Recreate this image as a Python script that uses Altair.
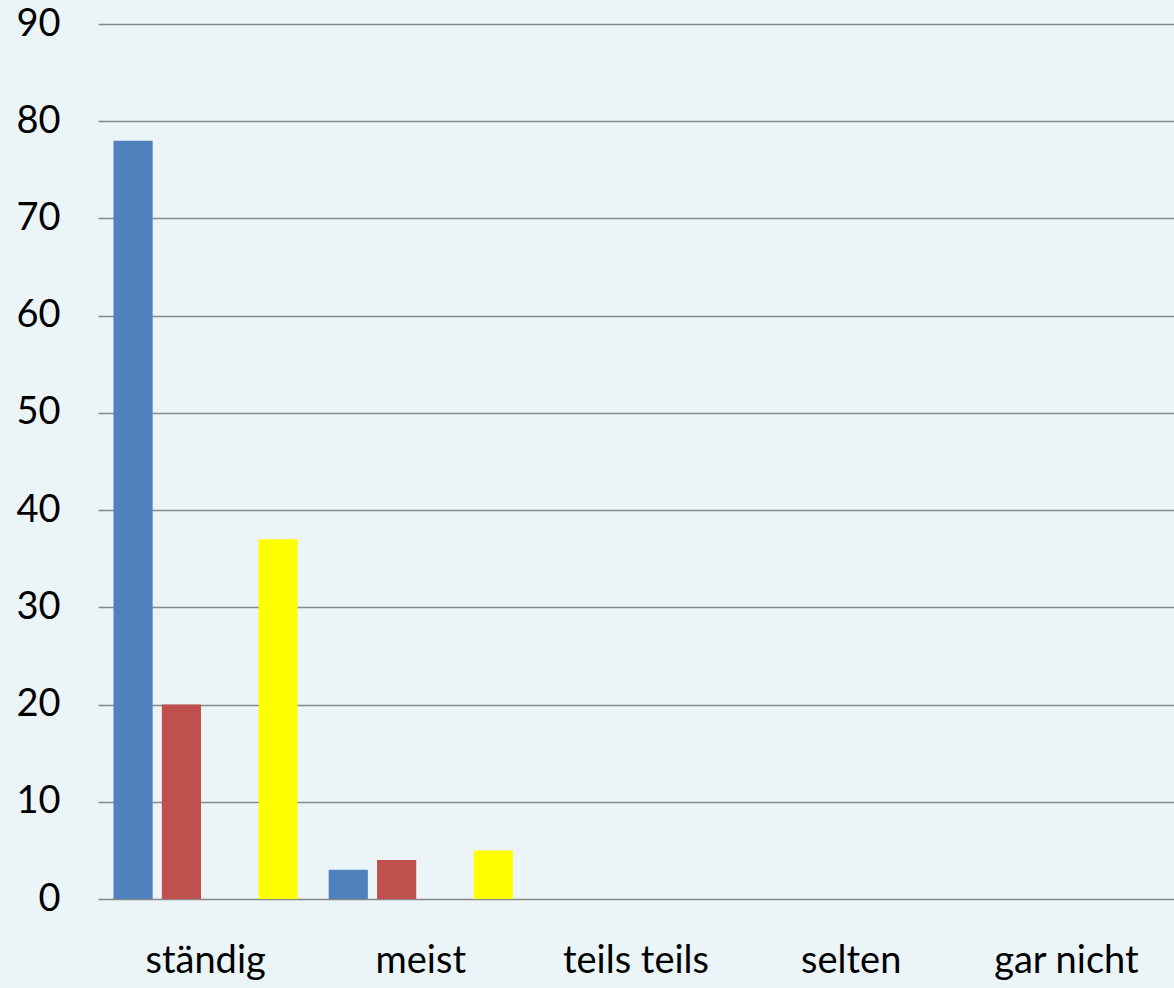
import altair as alt
import pandas as pd

categories = ["ständig", "meist", "teils teils", "selten", "gar nicht"]
series = ["Reihe 1", "Reihe 2", "Reihe 3", "Reihe 4"]
values_1 = [78, 3, 0, 0, 0]
values_2 = [20, 4, 0, 0, 0]
values_3 = [0, 0, 0, 0, 0]
values_4 = [37, 5, 0, 0, 0]
colors = ["#4F81BD", "#C0504D", "#9BBB59", "#FFFF00"]

rows = []
for s, vals in zip(series, [values_1, values_2, values_3, values_4]):
    for c, v in zip(categories, vals):
        rows.append({"Kategorie": c, "Reihe": s, "Wert": v})
df = pd.DataFrame(rows)

font = "Lato"

chart = alt.Chart(df).mark_bar().encode(
    x=alt.X("Kategorie:N", sort=categories,
            scale=alt.Scale(paddingInner=0.144, paddingOuter=0.072),
            axis=alt.Axis(title=None, labelAngle=0, labelFontSize=38, labelFont=font,
                          labelColor="#000000", labelPadding=43, ticks=False, domain=False,
                          grid=False)),
    xOffset=alt.XOffset("Reihe:N", sort=series,
                        scale=alt.Scale(paddingInner=0.19, paddingOuter=0)),
    y=alt.Y("Wert:Q", scale=alt.Scale(domain=[0, 90], nice=False),
            axis=alt.Axis(title=None, values=list(range(0, 91, 10)), labelFontSize=38,
                          labelFont=font, labelColor="#000000", labelPadding=38,
                          ticks=False, domain=False, grid=True, gridColor="#888888",
                          gridWidth=1.5)),
    color=alt.Color("Reihe:N", sort=series,
                    scale=alt.Scale(domain=series, range=colors), legend=None),
).properties(
    width=1076, height=875,
    background="#EBF4F7",
    autosize=alt.AutoSizeParams(type="none"),
    padding={"left": 98, "top": 24, "right": 0, "bottom": 89},
).configure_view(stroke=None)

chart.save("out.html", embed_options={"renderer": "svg", "actions": False})
